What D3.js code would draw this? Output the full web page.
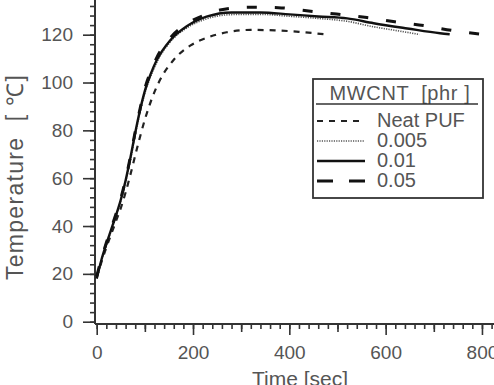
<!DOCTYPE html>
<html>
<head>
<meta charset="utf-8">
<script src="https://cdn.jsdelivr.net/npm/d3@7"></script>
<style>
  body { margin: 0; background: #fff; }
  svg { display: block; font-family: "Liberation Sans", Arial, sans-serif; }
</style>
</head>
<body>
<svg id="chart" width="494" height="385"></svg>
<script>
  /* Data */

  let seriesNames = ["Neat PUF", "0.005", "0.01", "0.05"]

  let neat_time = [0, 10, 20, 30, 40, 50, 60, 70, 85, 100, 115, 130, 160, 195, 230, 270, 320, 370, 420, 480]
  let neat_temp = [18.5, 25, 31, 36.5, 42, 47.5, 54, 61.5, 73.5, 84.5, 93.5, 100.5, 109.5, 115.5, 118.8, 121, 122, 121.8, 121.2, 120]

  let low_time = [0, 10, 20, 30, 40, 50, 60, 70, 80, 90, 100, 112, 125, 152, 187, 228, 280, 340, 400, 460, 520, 575, 620, 670]
  let low_temp = [18.5, 25.5, 32, 38, 44, 50.5, 58.5, 67.5, 78, 87.5, 95.5, 102.5, 108.5, 116.8, 122.8, 126.6, 128.4, 128.5, 127.7, 126.8, 125.6, 123.3, 121.8, 120.1]

  let mid_time = [0, 10, 20, 30, 40, 50, 60, 70, 80, 90, 100, 112, 125, 152, 187, 228, 280, 340, 400, 460, 520, 575, 645, 713, 733]
  let mid_temp = [18, 26, 32.5, 38.5, 44.5, 51, 59, 68.5, 79, 88.5, 96.5, 103.5, 109.5, 117.5, 123.5, 127.5, 129.3, 129.3, 128.5, 127.6, 126.8, 124.8, 122.6, 120.6, 120.2]

  let high_time = [0, 10, 20, 30, 40, 50, 60, 70, 80, 90, 100, 112, 125, 152, 187, 228, 256, 318, 377, 436, 498, 561, 619, 682, 740, 795]
  let high_temp = [19, 26.5, 33, 39, 45, 51.5, 59.5, 69, 79.5, 89, 97.5, 104.5, 110.5, 118.5, 124.5, 128.5, 130.3, 131.5, 131.3, 130, 128.6, 127.2, 125.4, 123.7, 121.7, 120.3]

  let xMajorTicks = [0, 200, 400, 600, 800]
  let yMajorTicks = [0, 20, 40, 60, 80, 100, 120]

  /* Build series */

  function pairs(times, temps){
      return times.map(function(t, i){
          return {t: t, v: temps[i]}
      })
  }

  let allSeries = [
      {name: seriesNames[0], values: pairs(neat_time, neat_temp), dash: "6,6", width: 2.2, color: "#222", legendDash: "6,6"},
      {name: seriesNames[1], values: pairs(low_time, low_temp), dash: "1.2,1.2", width: 1.6, color: "#555", legendDash: "1.2,1.2"},
      {name: seriesNames[2], values: pairs(mid_time, mid_temp), dash: null, width: 2.4, color: "#111", legendDash: null},
      {name: seriesNames[3], values: pairs(high_time, high_temp), dash: "10,18", width: 3, color: "#111", legendDash: "16,16"}
  ]

  let svg = d3.select("#chart")

  let x = d3.scaleLinear().domain([0, 825]).range([96.7, 494])
  let y = d3.scaleLinear().domain([0, 135]).range([321.7, -1.2])

  let axisX = 95
  let axisY = 324
  let textColor = "#555"

  /* Axes */

  let yAxis = svg.append("g").attr("transform", `translate(${axisX},0)`)
  yAxis.call(d3.axisLeft(y).tickValues(d3.range(0, 135, 4)).tickSize(5).tickFormat(""))
  yAxis.append("g").call(d3.axisLeft(y).tickValues(yMajorTicks).tickSize(12).tickPadding(10))

  let xAxis = svg.append("g").attr("transform", `translate(0,${axisY})`)
  xAxis.call(d3.axisBottom(x).tickValues(d3.range(0, 825, 20)).tickSize(5).tickFormat(""))
  xAxis.append("g").call(d3.axisBottom(x).tickValues([100, 300, 500, 700]).tickSize(8).tickFormat(""))
  xAxis.append("g").call(d3.axisBottom(x).tickValues(xMajorTicks).tickSize(11).tickPadding(11))

  svg.selectAll(".domain").remove()
  svg.selectAll(".tick line").attr("stroke", "#333").attr("stroke-width", 1.6)
  svg.selectAll(".tick text")
     .attr("fill", textColor)
     .style("font-size", "19px")
     .style("font-family", "'Liberation Sans', Arial, sans-serif")

  svg.append("line")
     .attr("x1", axisX).attr("x2", axisX)
     .attr("y1", 0).attr("y2", axisY)
     .attr("stroke", "#333").attr("stroke-width", 2)
  svg.append("line")
     .attr("x1", axisX).attr("x2", 494)
     .attr("y1", axisY).attr("y2", axisY)
     .attr("stroke", "#333").attr("stroke-width", 2)

  svg.append("text")
     .attr("x", 300).attr("y", 386)
     .attr("text-anchor", "middle")
     .attr("fill", textColor)
     .style("font-size", "21px")
     .text("Time [sec]")

  svg.append("text")
     .attr("transform", "translate(23,177) rotate(-90)")
     .attr("text-anchor", "middle")
     .attr("fill", textColor)
     .style("font-size", "23px")
     .style("letter-spacing", "1.3px")
     .style("white-space", "pre")
     .text("Temperature  [ ℃]")

  /* Curves */

  let line = d3.line()
               .x(function(d){ return x(d.t) })
               .y(function(d){ return y(d.v) })
               .curve(d3.curveMonotoneX)

  svg.append("g")
     .selectAll("path")
     .data(allSeries)
     .enter()
     .append("path")
     .attr("d", function(d){ return line(d.values) })
     .attr("fill", "none")
     .attr("stroke", function(d){ return d.color })
     .attr("stroke-width", function(d){ return d.width })
     .attr("stroke-dasharray", function(d){ return d.dash })

  /* Legend */

  let legend = svg.append("g")

  legend.append("rect")
        .attr("x", 313).attr("y", 79)
        .attr("width", 170).attr("height", 119)
        .attr("fill", "#fff")
        .attr("stroke", "#333")
        .attr("stroke-width", 1.8)

  legend.append("text")
        .attr("x", 400).attr("y", 100)
        .attr("text-anchor", "middle")
        .attr("fill", textColor)
        .style("font-size", "20px")
        .style("white-space", "pre")
        .style("letter-spacing", "0.6px")
        .text("MWCNT  [phr ]")

  legend.append("line")
        .attr("x1", 316).attr("x2", 478)
        .attr("y1", 104).attr("y2", 104)
        .attr("stroke", "#333").attr("stroke-width", 1.6)

  let rows = legend.selectAll(".row")
                   .data(allSeries)
                   .enter()
                   .append("g")
                   .attr("class", "row")
                   .attr("transform", function(d, i){ return `translate(0,${127 + i * 20})` })

  rows.append("line")
      .attr("x1", 317).attr("x2", 365)
      .attr("y1", -6).attr("y2", -6)
      .attr("stroke", function(d){ return d.color })
      .attr("stroke-width", function(d){ return d.width })
      .attr("stroke-dasharray", function(d){ return d.legendDash })

  rows.append("text")
      .attr("x", 377).attr("y", 0)
      .attr("fill", textColor)
      .style("font-size", "20px")
      .text(function(d){ return d.name })
</script>
</body>
</html>
